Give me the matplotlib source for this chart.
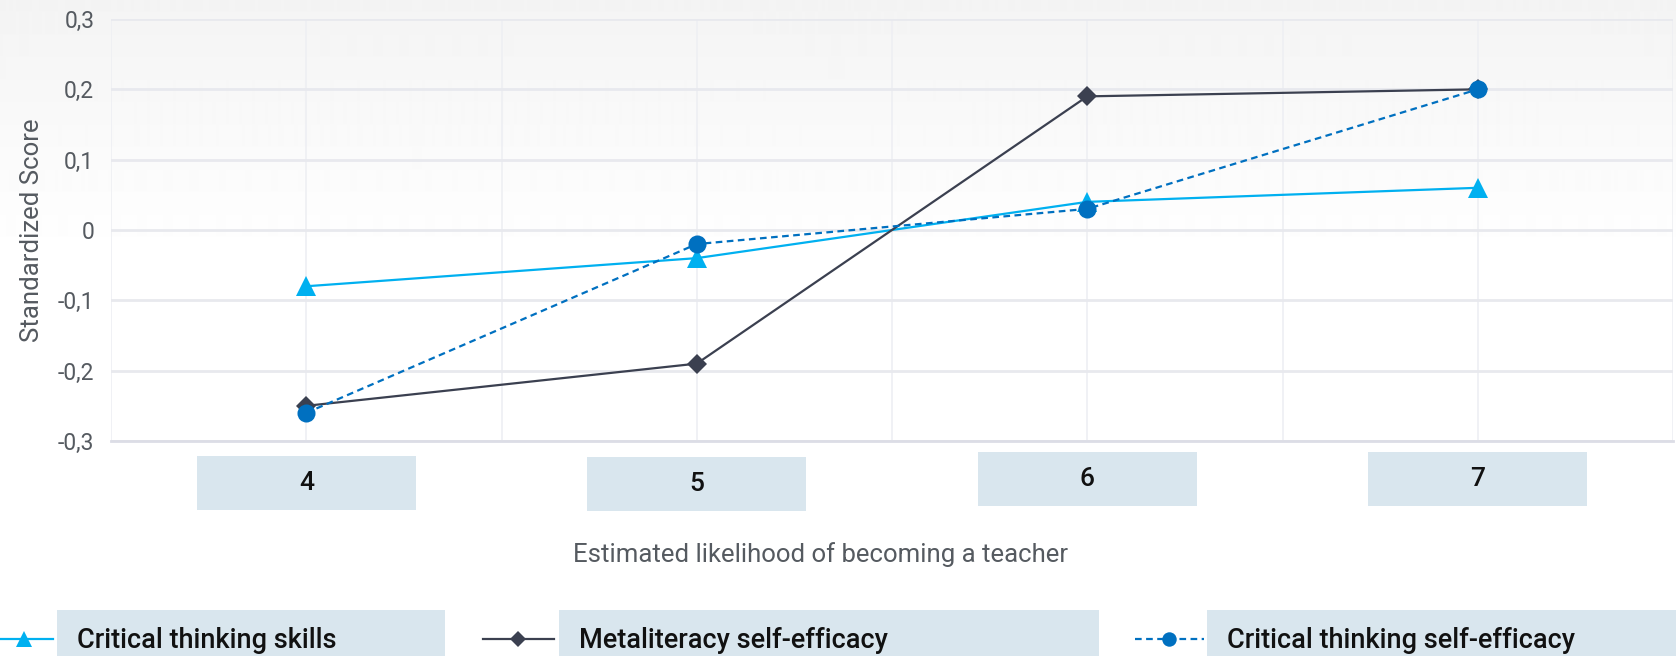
import numpy as np
from matplotlib import pyplot as plt
from matplotlib.patches import Rectangle
from matplotlib.lines import Line2D
import matplotlib.transforms as mtransforms

plt.rcParams['font.family'] = ['Roboto', 'DejaVu Sans']

# data
likelihood = [4, 5, 6, 7]
series_names = ['Critical thinking skills', 'Metaliteracy self-efficacy', 'Critical thinking self-efficacy']
critical_thinking_skills = [-0.08, -0.04, 0.04, 0.06]
metaliteracy_self_efficacy = [-0.25, -0.19, 0.19, 0.20]
critical_thinking_self_efficacy = [-0.26, -0.02, 0.03, 0.20]
y_ticks = [-0.3, -0.2, -0.1, 0, 0.1, 0.2, 0.3]
y_tick_labels = ['-0,3', '-0,2', '-0,1', '0', '0,1', '0,2', '0,3']

# styles
colors = ['#00b0f0', '#3b4050', '#0070c0']
markers = ['^', 'D', 'o']
msizes = [14, 10, 13]
styles = ['-', '-', (0, (3, 2))]
box_color = '#d9e6ee'
grid_color = '#e8e9ee'
bold_txt = dict(family=['Roboto', 'DejaVu Sans'], weight='medium', color='#111111')

W, H = 1676, 656
fig = plt.figure(figsize=(W / 100, H / 100), dpi=100)

# background gradient at top of figure
bg = fig.add_axes([0, 0, 1, 1], zorder=-10)
grad = np.ones((H, 2))
top = 260
grad[:top, :] = np.linspace(0.955, 1.0, top)[:, None]
bg.imshow(grad, cmap='gray', vmin=0, vmax=1, aspect='auto', extent=[0, 1, 0, 1],
          interpolation='bilinear')
bg.axis('off')

ax = fig.add_axes([111 / W, 1 - 441 / H, (1673 - 111) / W, (441 - 19) / H])
ax.patch.set_alpha(0)

all_series = [critical_thinking_skills, metaliteracy_self_efficacy, critical_thinking_self_efficacy]
for i, vals in enumerate(all_series):
    ax.plot(likelihood, vals, color=colors[i], marker=markers[i], markersize=msizes[i],
            linestyle=styles[i], linewidth=1.6, label=series_names[i], zorder=3 + i,
            markeredgewidth=0)

ax.set_xlim(3.5, 7.5)
ax.set_ylim(-0.3, 0.3)
ax.set_yticks(y_ticks)
ax.set_yticklabels(y_tick_labels, fontsize=16.5, color='#555a60')
ax.set_xticks(np.arange(3.5, 7.51, 0.5))
ax.set_xticklabels([])
ax.tick_params(length=0, pad=12)
for s in ['top', 'right', 'left']:
    ax.spines[s].set_visible(False)
ax.spines['bottom'].set_color('#dcdde6')
ax.spines['bottom'].set_linewidth(2)
ax.grid(True, axis='y', color=grid_color, linewidth=2)
ax.grid(True, axis='x', color='#eeeff3', linewidth=1.2)
ax.set_axisbelow(True)

# tick label boxes
trans = mtransforms.blended_transform_factory(ax.transData, ax.transAxes)
box_tops = [-0.036, -0.038, -0.026, -0.026]
for i, x in enumerate(likelihood):
    ax.add_patch(Rectangle((x - 0.28, box_tops[i] - 0.128), 0.56, 0.128, transform=trans,
                           facecolor=box_color, edgecolor='none', clip_on=False))
    ax.text(x, box_tops[i] - 0.064, str(x), transform=trans, ha='center', va='center',
            fontsize=19, clip_on=False, **bold_txt)

ax.set_ylabel('Standardized Score', fontsize=18.5, color='#555a60', labelpad=10)
fig.text(821 / W, 1 - 555 / H, 'Estimated likelihood of becoming a teacher', ha='center',
         va='center', fontsize=18.5, color='#555a60')

# legend drawn by hand (cut off at the bottom like the original)
leg_y = 1 - 639 / H
handles = [(0, 53, 24), (483, 554, 518), (1135, 1204, 1169)]
boxes = [(57, 445), (559, 1099), (1207, 1676)]
for i in range(3):
    x0, x1, xm = handles[i]
    fig.add_artist(Line2D([x0 / W, x1 / W], [leg_y, leg_y], color=colors[i],
                          linestyle=styles[i], linewidth=1.6))
    fig.add_artist(Line2D([xm / W], [leg_y], color=colors[i], marker=markers[i],
                          markersize=msizes[i] * 0.8, markeredgewidth=0))
    b0, b1 = boxes[i]
    fig.add_artist(Rectangle((b0 / W, 0), (b1 - b0) / W, 46 / H, facecolor=box_color,
                             edgecolor='none', zorder=0))
    fig.text((b0 + 20) / W, leg_y - 0.002, series_names[i], ha='left', va='center',
             fontsize=19.5, **bold_txt)

plt.savefig('out.png', dpi=100)
